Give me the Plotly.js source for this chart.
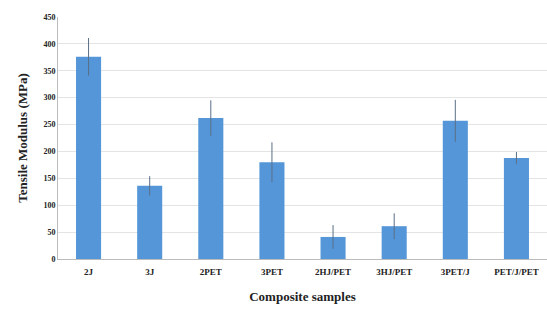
<!DOCTYPE html>
<html>
<head>
<meta charset="utf-8">
<script src="https://cdn.plot.ly/plotly-3.0.1.min.js"></script>
<style>html,body{margin:0;padding:0;background:#fff;}#chart{width:547px;height:310px;}</style>
</head>
<body>
<div id="chart"></div>
<script>
const categories = ["2J", "3J", "2PET", "3PET", "2HJ/PET", "3HJ/PET", "3PET/J", "PET/J/PET"];
const modulus = [376, 136, 262, 180, 41, 61, 257, 188];
const errors = [35, 18, 33, 37, 22, 24, 39, 11];
const yTicks = [0, 50, 100, 150, 200, 250, 300, 350, 400, 450];

const trace = {
  type: "bar",
  x: categories,
  y: modulus,
  marker: {color: "#5496d8"},
  error_y: {type: "data", array: errors, visible: true, color: "#5a6f86", thickness: 1, width: 0}
};

const fam = "'Liberation Serif', 'Times New Roman', serif";

const layout = {
  width: 547, height: 310,
  margin: {l: 58, r: 0, t: 17, b: 51},
  paper_bgcolor: "#fff", plot_bgcolor: "#fff",
  bargap: 0.59,
  showlegend: false,
  font: {family: fam, color: "#222"},
  xaxis: {
    type: "category",
    tickfont: {family: fam, size: 9, color: "#222", weight: "bold"},
    showline: true, linecolor: "#bbb", linewidth: 1,
    ticks: "outside", ticklen: 4, tickcolor: "rgba(0,0,0,0)", showgrid: false,
    title: {text: "<b>Composite samples</b>", font: {family: fam, size: 13, color: "#222"}, standoff: 16}
  },
  yaxis: {
    range: [0, 450],
    tickvals: yTicks,
    ticktext: yTicks.map(String),
    tickfont: {family: fam, size: 8, color: "#222", weight: "bold"},
    showline: true, linecolor: "#bbb", linewidth: 1,
    gridcolor: "#e4e4e4", gridwidth: 1,
    zeroline: false,
    ticks: "outside", ticklen: 0,
    title: {text: "<b>Tensile Modulus (MPa)</b>", font: {family: fam, size: 13, color: "#222"}, standoff: 12}
  }
};

Plotly.newPlot("chart", [trace], layout, {staticPlot: true, displayModeBar: false});
</script>
</body>
</html>
